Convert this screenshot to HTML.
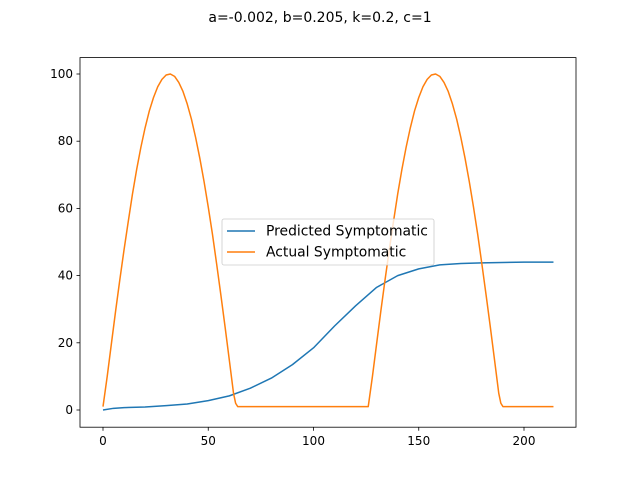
<!DOCTYPE html>
<html><head><meta charset="utf-8"><style>
body{margin:0;background:#fff}
svg text{font-family:"DejaVu Sans","Liberation Sans",sans-serif;font-size:10px;fill:#000}
</style></head><body>
<svg id="chart" width="640" height="480" xmlns="http://www.w3.org/2000/svg">
<rect width="640" height="480" fill="#fff"/>
<text x="320" y="22" text-anchor="middle" style="font-size:14px">a=-0.002, b=0.205, k=0.2, c=1</text>
<g id="ticks"></g>
<g id="series"></g>
<rect x="80" y="57.6" width="496" height="369.6" fill="none" stroke="#000" stroke-width="0.8"/>
<g>
<rect x="222" y="219" width="212" height="46" rx="2" fill="#fff" fill-opacity="0.8" stroke="#ccc" stroke-width="0.8"/>
<line x1="227" y1="231" x2="255" y2="231" stroke="#1f77b4" stroke-width="1.5"/>
<text x="266" y="235.5" style="font-size:13.9px">Predicted Symptomatic</text>
<line x1="227" y1="252" x2="255" y2="252" stroke="#ff7f0e" stroke-width="1.5"/>
<text x="266" y="256.5" style="font-size:13.9px">Actual Symptomatic</text>
</g>
</svg>
<script>
const xTicks=[0,50,100,150,200];
const yTicks=[0,20,40,60,80,100];
const predX=[0,5,10,20,30,40,50,60,70,80,90,100,110,120,130,140,150,160,170,180,200,214];
const predY=[0,0.5,0.7,0.9,1.3,1.8,2.8,4.2,6.5,9.5,13.5,18.5,25,31,36.5,40,42,43.2,43.6,43.8,44,44];
const actX=[0,2,4,6,8,10,12,14,16,18,20,22,24,26,28,30,32,34,36,38,40,42,44,46,48,50,52,54,56,58,60,62,63,64,126,128,130,132,134,136,138,140,142,144,146,148,150,152,154,156,158,160,162,164,166,168,170,172,174,176,178,180,182,184,186,188,189,190,214];
const actY=[1,10,19.8,29.5,38.8,47.7,56.1,64.3,71.6,78.2,84,89,93,96.2,98.4,99.7,100,99.3,97.5,94.8,91.1,86.6,81.1,74.9,68,60.4,52.3,43.4,34.2,24.7,14.9,5,2,1,1,10,19.8,29.5,38.8,47.7,56.1,64.3,71.6,78.2,84,89,93,96.2,98.4,99.7,100,99.3,97.5,94.8,91.1,86.6,81.1,74.9,68,60.4,52.3,43.4,34.2,24.7,14.9,5,2,1,1];
const X=v=>103+(v)*2.105;
const Y=v=>410-v*3.36;
const ns="http://www.w3.org/2000/svg";
const tg=document.getElementById('ticks');
xTicks.forEach(t=>{
 const l=document.createElementNS(ns,'line');
 
 
 l.setAttribute('x1',X(t));l.setAttribute('x2',X(t));l.setAttribute('y1',427.2);l.setAttribute('y2',430.7);l.setAttribute('stroke','#000');l.setAttribute('stroke-width','0.8');
 tg.appendChild(l);
 const s=document.createElementNS(ns,'text');
 
 
 s.setAttribute('x',X(t));s.setAttribute('y',445);s.setAttribute('text-anchor','middle');s.setAttribute('style','font-size:12px');s.textContent=t;
 tg.appendChild(s);
});
yTicks.forEach(t=>{
 const l=document.createElementNS(ns,'line');
 
 
 l.setAttribute('x1',76.5);l.setAttribute('x2',80);l.setAttribute('y1',Y(t));l.setAttribute('y2',Y(t));l.setAttribute('stroke','#000');l.setAttribute('stroke-width','0.8');
 tg.appendChild(l);
 const s=document.createElementNS(ns,'text');
 
 
 s.setAttribute('x',73);s.setAttribute('y',Y(t)+4);s.setAttribute('text-anchor','end');s.setAttribute('style','font-size:12px');s.textContent=t;
 tg.appendChild(s);
});
const sg=document.getElementById('series');
function line(xs,ys,c,name){
 const p=document.createElementNS(ns,'polyline');
 
 
 p.setAttribute('points',xs.map((x,i)=>X(x)+','+Y(ys[i])).join(' '));
 p.setAttribute('fill','none');p.setAttribute('stroke',c);p.setAttribute('stroke-width','1.5');p.setAttribute('stroke-linejoin','round');
 sg.appendChild(p);
}
line(predX,predY,'#1f77b4','predicted-line');
line(actX,actY,'#ff7f0e','actual-line');
</script>
</body></html>
